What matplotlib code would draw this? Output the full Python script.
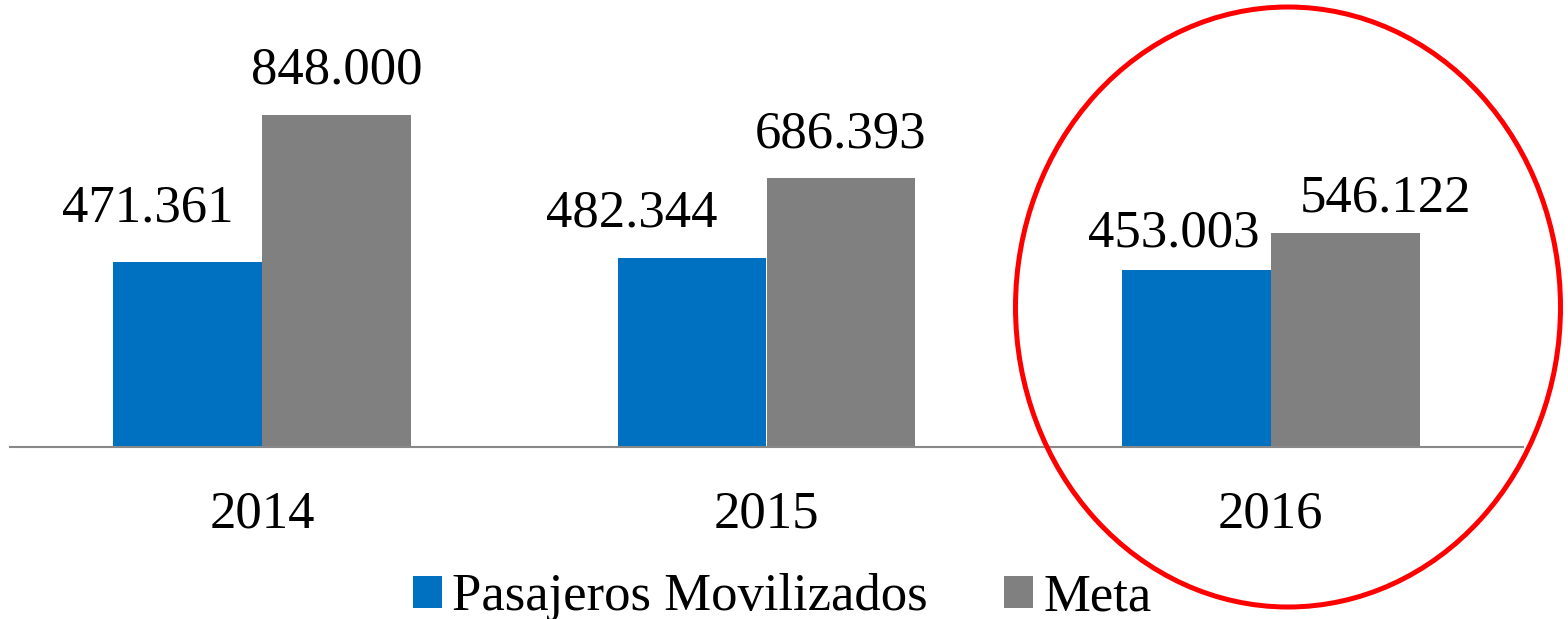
import matplotlib.pyplot as plt
from matplotlib.patches import Ellipse
import numpy as np

# datos
years = ["2014", "2015", "2016"]
pasajeros = [471361, 482344, 453003]
meta = [848000, 686393, 546122]
label_pas = ["471.361", "482.344", "453.003"]
label_meta = ["848.000", "686.393", "546.122"]

plt.rcParams['font.family'] = 'serif'
plt.rcParams['font.serif'] = ['Liberation Serif', 'DejaVu Serif']

fig = plt.figure(figsize=(15.68, 6.19), dpi=100)
ax = fig.add_axes([10 / 1568, (619 - 447) / 619, 1513 / 1568, 447 / 619])

x = np.arange(len(years))
w = 0.295
b1 = ax.bar(x - w / 2, pasajeros, width=w, color='#0070C0', label='Pasajeros Movilizados')
b2 = ax.bar(x + w / 2, meta, width=w, color='#808080', label='Meta')

# etiquetas (desplazadas a mano como en el original)
dx_pas = [-0.08, -0.12, -0.045]
dy_pas = [30, 21, 12]
dx_meta = [0.0, 0.0, 0.08]
dy_meta = [20, 20, 11]
for i in x:
    ax.annotate(label_pas[i], (x[i] - w / 2 + dx_pas[i], pasajeros[i]),
                xytext=(0, dy_pas[i] * 0.72), textcoords='offset points',
                ha='center', va='bottom', fontsize=38)
    ax.annotate(label_meta[i], (x[i] + w / 2 + dx_meta[i], meta[i]),
                xytext=(0, dy_meta[i] * 0.72), textcoords='offset points',
                ha='center', va='bottom', fontsize=38)

ax.set_xlim(-0.5, 2.5)
ax.set_ylim(0, 848000 * 447 / 332)
ax.set_xticks(x)
ax.set_xticklabels(years, fontsize=38)
ax.tick_params(axis='x', length=0, pad=31)
ax.set_yticks([])
for s in ['top', 'right', 'left']:
    ax.spines[s].set_visible(False)
ax.spines['bottom'].set_color('#888888')
ax.spines['bottom'].set_linewidth(1.5)

leg = fig.legend(handles=[b1, b2], loc='center', bbox_to_anchor=(0.499, 0.035),
                 ncol=2, frameon=False, fontsize=38, handlelength=0.55, handleheight=0.55,
                 handletextpad=0.2, columnspacing=1.45, borderpad=0)

# círculo rojo
circ = Ellipse((1288 / 1568, (619 - 307) / 619), 545 / 1568, 600 / 619,
               transform=fig.transFigure, fill=False, edgecolor='red', linewidth=3.6)
fig.patches.append(circ)

fig.savefig("out.png", dpi=100)
